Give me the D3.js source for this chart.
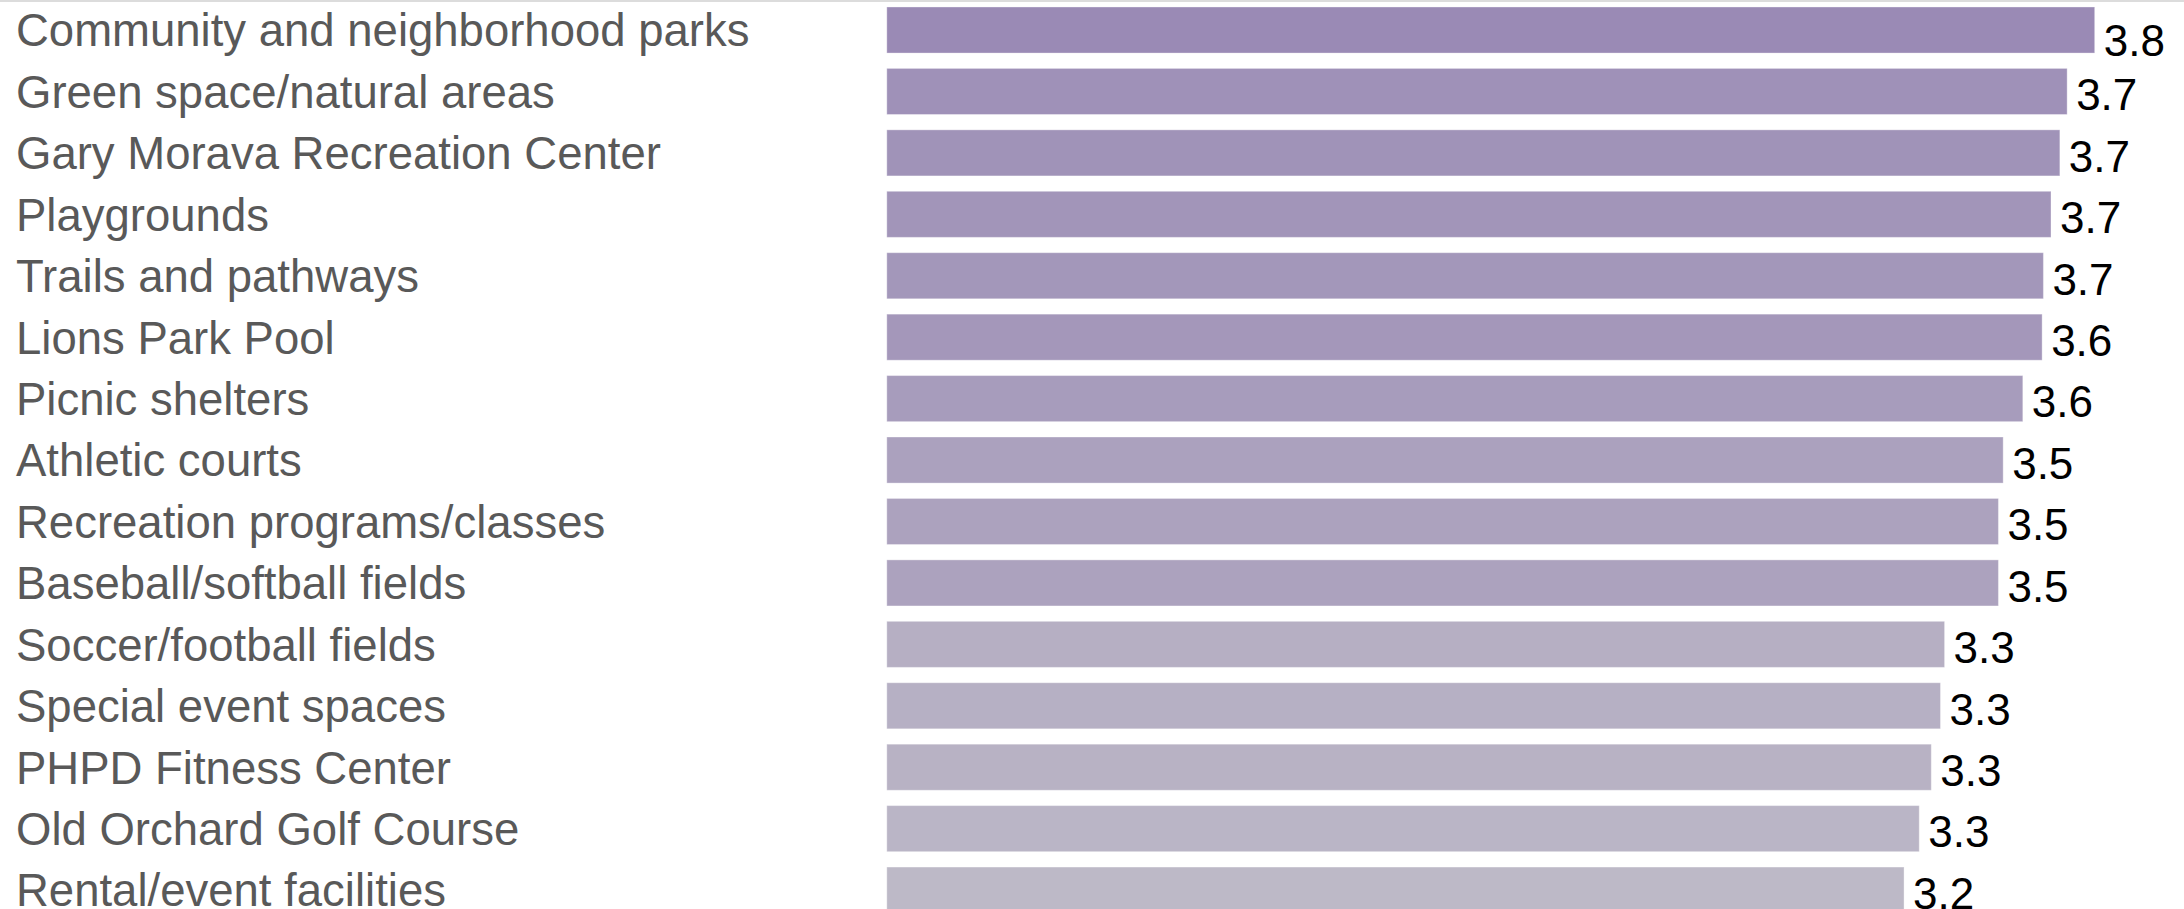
<!DOCTYPE html>
<html>
<head>
<meta charset="utf-8">
<script src="https://cdn.jsdelivr.net/npm/d3@7/dist/d3.min.js"></script>
<style>
  html, body { margin: 0; padding: 0; background: #ffffff; }
  svg { display: block; }
</style>
</head>
<body>
<svg id="chart" width="2184" height="909"></svg>
<script>
// Average rating of each facility / amenity (higher = better)
const categories = [
  "Community and neighborhood parks",
  "Green space/natural areas",
  "Gary Morava Recreation Center",
  "Playgrounds",
  "Trails and pathways",
  "Lions Park Pool",
  "Picnic shelters",
  "Athletic courts",
  "Recreation programs/classes",
  "Baseball/softball fields",
  "Soccer/football fields",
  "Special event spaces",
  "PHPD Fitness Center",
  "Old Orchard Golf Course",
  "Rental/event facilities"
];
const ratings = [3.814, 3.727, 3.704, 3.676, 3.652, 3.648, 3.587, 3.525, 3.510, 3.510, 3.340, 3.327, 3.298, 3.260, 3.212];

const data = categories.map((name, i) => ({ name, value: ratings[i] }));

const svg = d3.select("#chart");
const W = 2184, H = 909;

const x = d3.scaleLinear()
  .domain([0, d3.max(ratings)])
  .range([886.8, 2094.7]);

const y = d3.scaleBand()
  .domain(categories)
  .range([-0.7, 920.8])
  .paddingInner(0.25)
  .paddingOuter(0.125);

const color = d3.scaleLinear()
  .domain([d3.min(ratings), d3.max(ratings)])
  .range(["#bdb9c7", "#9a8ab5"]);

const fmt = d3.format(".1f");

// thin rule along the top edge
svg.append("line")
  .attr("x1", 0).attr("x2", W)
  .attr("y1", 1).attr("y2", 1)
  .attr("stroke", "#dcdcdc")
  .attr("stroke-width", 2);

// bars
svg.append("g")
  .selectAll("rect")
  .data(data)
  .join("rect")
  .attr("x", x(0))
  .attr("y", d => y(d.name))
  .attr("width", d => x(d.value) - x(0))
  .attr("height", y.bandwidth())
  .attr("fill", d => color(d.value))
  .attr("stroke", "#ffffff")
  .attr("stroke-opacity", 0.35)
  .attr("stroke-width", 1);

// category labels on the left
svg.append("g")
  .selectAll("text")
  .data(data)
  .join("text")
  .attr("x", 16)
  .attr("y", d => y(d.name) + y.bandwidth() / 2)
  .attr("dy", "0.36em")
  .attr("font-family", "'Liberation Sans', Arial, sans-serif")
  .attr("font-size", 45.5)
  .attr("fill", "#595959")
  .text(d => d.name);

// value labels at the bar ends (the top one sits a little lower)
svg.append("g")
  .selectAll("text")
  .data(data)
  .join("text")
  .attr("x", d => x(d.value) + 9)
  .attr("y", (d, i) => y(d.name) + y.bandwidth() / 2 + (i === 0 ? 10 : 3))
  .attr("dy", "0.36em")
  .attr("font-family", "'Liberation Sans', Arial, sans-serif")
  .attr("font-size", 44)
  .attr("fill", "#000000")
  .text(d => fmt(d.value));
</script>
</body>
</html>
